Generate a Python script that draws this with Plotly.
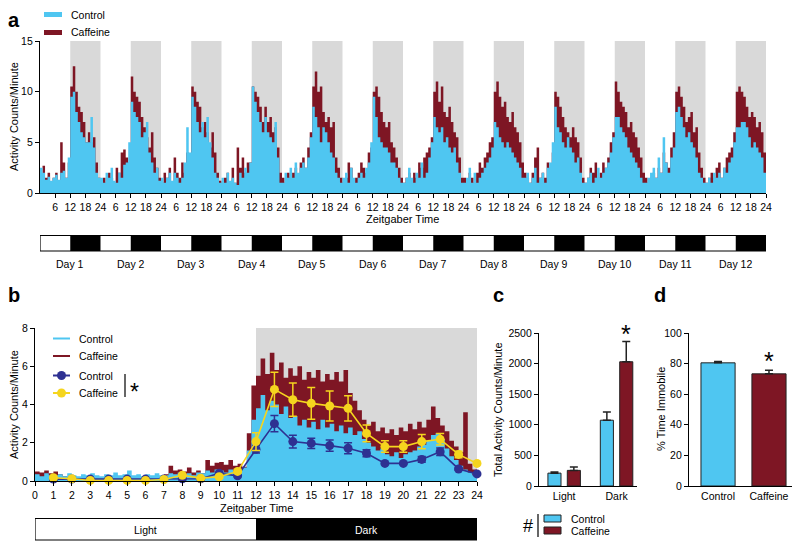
import plotly.graph_objects as go

# The page body has an 8 px margin; the figure is sized and offset so that
# reference pixel coordinates map 1:1 onto the 800x543 screenshot.
OFF = 8
W, H = 800 - OFF, 543 - OFF
FONT = "Liberation Sans, Arial, sans-serif"
BLUE = "#4FC6F1"
RED = "#7E1624"
NAVY = "#2E3192"
GOLD = "#F5D51E"
GRAY = "#D9D9D9"

# ---------------- Panel a: hourly activity, 12 days x 24 h (ZT0..ZT23) ----------------
a_tick_labels = ["6", "12", "18", "24"]
day_labels = ["Day %d" % (i + 1) for i in range(12)]

control_hourly = [
    [2.5, 2.0, 1.3, 1.6, 1.2, 1.5, 1.8, 1.3, 2.0, 2.2, 1.5, 3.5, 9.5, 10.0, 8.0, 7.0, 6.0, 5.5, 5.0, 5.0, 7.5, 4.5, 2.0, 1.5],
    [1.5, 1.0, 2.0, 1.5, 2.5, 1.2, 1.0, 2.0, 1.5, 2.8, 3.0, 5.0, 9.0, 8.0, 7.5, 7.0, 5.5, 6.0, 7.0, 4.0, 3.0, 2.0, 2.5, 1.2],
    [1.5, 1.0, 1.5, 2.0, 1.2, 2.0, 1.5, 1.0, 1.5, 3.0, 6.5, 4.0, 9.5, 8.5, 7.0, 6.0, 7.0, 5.5, 7.5, 5.0, 3.5, 2.0, 1.5, 1.0],
    [1.5, 1.0, 2.0, 1.2, 1.5, 1.0, 0.8, 2.0, 1.5, 2.5, 2.0, 3.0, 10.5, 9.0, 8.0, 7.0, 6.0, 7.5, 6.0, 5.5, 5.0, 7.0, 3.5, 1.0],
    [1.0, 2.0, 1.5, 2.5, 1.5, 3.0, 2.0, 2.5, 3.0, 2.5, 3.5, 5.5, 8.5, 7.5, 6.5, 5.0, 6.5, 6.0, 5.0, 4.0, 3.5, 2.0, 1.5, 1.0],
    [1.5, 2.0, 1.0, 2.5, 1.5, 1.0, 1.5, 2.0, 1.5, 2.5, 3.0, 5.0, 9.5, 7.5, 5.5, 5.0, 4.5, 4.5, 4.0, 3.0, 3.0, 2.5, 1.5, 1.0],
    [1.0, 1.5, 2.5, 1.5, 1.0, 2.0, 1.5, 3.0, 1.5, 2.0, 3.5, 5.0, 7.5, 6.5, 6.0, 6.5, 5.0, 5.5, 4.5, 4.0, 4.5, 3.0, 2.0, 1.0],
    [1.0, 1.5, 2.5, 1.0, 2.0, 1.0, 1.5, 2.0, 2.5, 3.0, 3.5, 4.5, 7.0, 6.5, 5.5, 5.0, 4.5, 5.0, 4.5, 4.0, 3.5, 3.0, 2.5, 1.5],
    [1.5, 2.0, 1.0, 1.5, 2.5, 1.0, 1.5, 2.0, 1.0, 2.5, 3.0, 5.0, 8.5, 6.5, 6.0, 5.0, 4.5, 5.5, 4.5, 4.0, 3.0, 3.5, 2.0, 1.0],
    [1.0, 1.5, 2.0, 1.0, 1.5, 2.5, 1.5, 2.0, 2.5, 3.0, 4.0, 5.5, 7.5, 7.5, 6.5, 6.0, 5.5, 4.5, 4.0, 3.5, 3.0, 2.5, 1.5, 1.0],
    [1.0, 1.5, 2.0, 2.5, 1.5, 3.5, 2.0, 5.5, 3.0, 2.0, 3.5, 4.5, 8.0, 8.5, 7.5, 6.5, 5.5, 6.0, 5.0, 4.5, 3.5, 2.0, 1.5, 1.0],
    [1.0, 1.5, 1.0, 2.0, 1.5, 2.0, 1.5, 2.5, 2.0, 3.0, 3.5, 5.0, 6.5, 6.5, 7.0, 7.0, 6.5, 5.5, 4.5, 5.0, 4.5, 4.0, 3.5, 2.0],
]

caffeine_hourly = [
    [1.8, 2.7, 1.5, 2.0, 1.0, 1.5, 2.0, 1.2, 5.0, 3.0, 1.5, 3.0, 10.5, 12.5, 10.0, 8.5, 8.0, 7.0, 5.0, 6.0, 5.0, 5.5, 3.0, 1.5],
    [1.0, 1.5, 1.0, 2.0, 1.5, 1.0, 2.5, 2.0, 4.0, 4.3, 3.5, 3.0, 11.5, 10.0, 9.5, 9.0, 7.5, 6.5, 5.5, 4.5, 6.0, 3.5, 2.5, 1.5],
    [1.0, 2.0, 1.5, 2.5, 1.0, 3.5, 2.0, 1.5, 3.0, 2.0, 4.0, 3.0, 10.5, 10.0, 9.0, 8.5, 6.5, 7.0, 6.0, 4.5, 6.0, 4.0, 2.0, 1.2],
    [1.0, 1.5, 2.0, 1.0, 2.5, 1.0, 4.5, 2.5, 3.5, 2.0, 3.0, 3.0, 10.5, 10.0, 9.5, 8.5, 7.0, 8.5, 7.0, 7.5, 6.0, 6.5, 4.5, 2.0],
    [1.5, 1.0, 2.0, 1.5, 2.0, 2.5, 1.5, 3.0, 3.5, 2.5, 4.5, 6.0, 10.5, 12.0, 10.0, 10.5, 8.0, 7.0, 7.5, 6.5, 7.0, 3.5, 2.5, 1.5],
    [1.0, 1.5, 3.0, 2.5, 1.0, 1.5, 2.0, 3.0, 2.5, 2.0, 4.0, 4.5, 10.0, 10.5, 9.5, 8.0, 7.0, 6.5, 7.0, 5.0, 4.5, 3.5, 2.5, 1.5],
    [1.0, 1.5, 2.0, 1.0, 2.0, 1.5, 3.0, 2.5, 3.5, 4.0, 4.5, 5.5, 10.0, 11.0, 9.0, 10.5, 8.0, 7.5, 8.5, 7.0, 6.0, 5.5, 3.5, 1.5],
    [1.5, 1.0, 2.0, 1.5, 1.0, 2.0, 3.0, 2.5, 3.5, 4.0, 5.0, 5.5, 10.0, 11.0, 9.5, 8.5, 9.0, 7.5, 7.0, 8.0, 6.5, 6.0, 5.0, 3.0],
    [2.0, 1.5, 1.0, 2.0, 3.5, 4.5, 1.5, 2.0, 1.5, 3.0, 2.5, 4.0, 10.0, 9.5, 8.5, 7.5, 6.5, 6.0, 5.5, 6.5, 5.5, 5.0, 3.5, 1.5],
    [1.0, 1.5, 2.5, 2.0, 3.0, 1.5, 2.0, 3.0, 2.5, 3.5, 5.0, 6.0, 11.0, 10.0, 9.0, 8.5, 8.0, 6.5, 7.0, 6.0, 5.5, 4.5, 3.5, 2.0],
    [1.5, 1.0, 1.5, 2.0, 1.5, 2.5, 2.0, 4.0, 3.0, 2.5, 4.5, 6.0, 10.0, 10.5, 9.5, 8.5, 7.0, 7.5, 8.0, 6.0, 6.5, 4.0, 2.5, 1.5],
    [1.0, 1.5, 2.0, 1.5, 2.5, 3.0, 1.5, 2.5, 3.5, 4.0, 4.5, 6.0, 10.0, 10.5, 10.0, 9.5, 8.5, 7.5, 8.0, 7.5, 6.5, 7.0, 6.0, 4.0],
]

# ---------------- Panel b: 24 h profile (15-min bins) and hourly means ----------------
control_b = [
    0.35, 0.25, 0.40, 0.30, 0.30, 0.35, 0.25, 0.40, 0.30, 0.25, 0.35, 0.30,
    0.40, 0.30, 0.25, 0.35, 0.30, 0.45, 0.30, 0.35, 0.55, 0.30, 0.35, 0.25,
    0.35, 0.30, 0.40, 0.30, 0.30, 0.40, 0.35, 0.45, 0.35, 0.40, 0.30, 0.45,
    0.40, 0.55, 0.45, 0.60, 0.55, 0.45, 0.60, 0.50, 0.55, 0.70, 1.60, 3.20,
    3.80, 4.50, 3.70, 4.20, 4.00, 3.50, 3.90, 3.30, 3.40, 2.90, 3.20, 2.80,
    3.10, 2.70, 3.20, 2.80, 3.00, 2.60, 2.90, 2.50, 2.80, 2.40, 2.60, 2.20,
    2.00, 1.80, 1.60, 1.70, 1.40, 1.30, 1.50, 1.20, 1.40, 1.50, 1.60, 1.80,
    1.90, 2.10, 2.40, 2.50, 2.20, 1.70, 1.30, 1.10, 0.80, 0.60, 0.45, 0.30,
]
caffeine_b = [
    0.50, 0.45, 0.55, 0.40, 0.50, 0.35, 0.25, 0.20, 0.25, 0.20, 0.25, 0.20,
    0.15, 0.20, 0.15, 0.20, 0.20, 0.15, 0.20, 0.15, 0.15, 0.20, 0.15, 0.20,
    0.20, 0.25, 0.20, 0.25, 0.35, 0.80, 0.55, 0.60, 0.50, 0.70, 0.45, 0.55,
    0.40, 1.10, 0.80, 0.95, 1.00, 0.85, 1.10, 0.80, 0.90, 0.75, 2.50, 5.00,
    5.50, 6.40, 5.60, 6.70, 5.80, 6.20, 5.40, 5.90, 5.50, 6.00, 5.30, 5.70,
    5.40, 5.80, 5.20, 5.60, 5.30, 5.70, 5.20, 5.80, 4.60, 4.20, 3.70, 3.20,
    2.90, 3.10, 2.60, 2.80, 2.50, 2.70, 2.40, 2.80, 2.60, 3.00, 2.70, 3.10,
    2.80, 3.20, 3.90, 3.30, 2.90, 2.60, 2.10, 1.80, 1.50, 3.60, 0.90, 0.60,
]
hours_mean = list(range(1, 25))
control_mean = [0.10, 0.10, 0.10, 0.10, 0.10, 0.10, 0.10, 0.12, 0.12, 0.40, 0.27, 1.66,
                3.00, 2.06, 1.97, 1.85, 1.71, 1.45, 0.92, 0.92, 1.13, 1.53, 0.63, 0.37]
control_sem = [0.03, 0.03, 0.03, 0.03, 0.03, 0.03, 0.03, 0.03, 0.03, 0.05, 0.04, 0.20,
               0.42, 0.33, 0.27, 0.30, 0.29, 0.18, 0.05, 0.05, 0.15, 0.20, 0.05, 0.05]
caffeine_mean = [0.17, 0.12, 0.03, 0.03, 0.03, 0.03, 0.08, 0.30, 0.15, 0.22, 0.50, 2.06,
                 4.79, 4.25, 4.06, 3.92, 3.80, 2.49, 1.80, 1.80, 2.06, 2.18, 1.39, 0.92]
caffeine_sem = [0.04, 0.04, 0.03, 0.03, 0.03, 0.03, 0.03, 0.05, 0.04, 0.08, 0.08, 0.46,
                0.90, 0.87, 0.83, 0.78, 0.66, 0.44, 0.30, 0.30, 0.37, 0.30, 0.17, 0.05]

# ---------------- Panel c: total activity ----------------
c_categories = ["Light", "Dark"]
c_control = [210, 1075]
c_control_err = [18, 135]
c_caffeine = [255, 2030]
c_caffeine_err = [55, 330]

# ---------------- Panel d: % time immobile ----------------
d_categories = ["Control", "Caffeine"]
d_values = [80.5, 73.3]
d_err = [0.8, 2.4]


def px(x):
    return (x - OFF) / W


def py(y):
    return 1 - (y - OFF) / H


fig = go.Figure()

# ---- panel a traces (step areas) ----
xa = [d * 24 + h for d in range(12) for h in range(24)]
xa.append(288)
ya_caf = [v for day in caffeine_hourly for v in day]
ya_caf.append(ya_caf[-1])
ya_ctl = [v for day in control_hourly for v in day]
ya_ctl.append(ya_ctl[-1])
for yy, col in ((ya_caf, RED), (ya_ctl, BLUE)):
    fig.add_trace(go.Scatter(x=xa, y=yy, mode="lines", line=dict(width=0, shape="hv", color=col),
                             fill="tozeroy", fillcolor=col, xaxis="x", yaxis="y",
                             showlegend=False, hoverinfo="skip"))

# ---- panel b traces ----
xb = [i * 0.25 for i in range(96)]
xb.append(24)
yb_caf = caffeine_b + [caffeine_b[-1]]
yb_ctl = control_b + [control_b[-1]]
for yy, col in ((yb_caf, RED), (yb_ctl, BLUE)):
    fig.add_trace(go.Scatter(x=xb, y=yy, mode="lines", line=dict(width=0, shape="hv", color=col),
                             fill="tozeroy", fillcolor=col, xaxis="x2", yaxis="y2",
                             showlegend=False, hoverinfo="skip"))
for mean, sem, col in ((control_mean, control_sem, NAVY), (caffeine_mean, caffeine_sem, GOLD)):
    fig.add_trace(go.Scatter(x=hours_mean, y=mean, mode="lines+markers",
                             line=dict(color=col, width=1.6),
                             marker=dict(color=col, size=9),
                             error_y=dict(type="data", array=sem, color=col, thickness=1.5, width=4),
                             xaxis="x2", yaxis="y2", showlegend=False, cliponaxis=False))

# ---- panel c ----
for vals, errs, col, off in ((c_control, c_control_err, BLUE, -0.31), (c_caffeine, c_caffeine_err, RED, 0.06)):
    fig.add_trace(go.Bar(x=[0, 1], y=vals, width=0.25, offset=off,
                         marker=dict(color=col, line=dict(color="#222", width=1)),
                         error_y=dict(type="data", array=errs, arrayminus=[0, 0], symmetric=False,
                                      color="#222", thickness=1.5, width=4),
                         xaxis="x3", yaxis="y3", showlegend=False))

# ---- panel d ----
fig.add_trace(go.Bar(x=[0, 1], y=d_values, width=0.67,
                     marker=dict(color=[BLUE, RED], line=dict(color="#222", width=1)),
                     error_y=dict(type="data", array=d_err, arrayminus=[0, 0], symmetric=False,
                                  color="#222", thickness=1.5, width=4),
                     xaxis="x4", yaxis="y4", showlegend=False))

shapes = []
ann = []
FS = 10.5

# gray dark-phase regions panel a
for d in range(12):
    shapes.append(dict(type="rect", xref="x", yref="y", x0=d * 24 + 12, x1=d * 24 + 24, y0=0, y1=15,
                       fillcolor=GRAY, line=dict(width=0), layer="below"))
# LD bar panel a
for d in range(12):
    shapes.append(dict(type="rect", xref="x", yref="paper", x0=d * 24 + 12, x1=d * 24 + 24,
                       y0=py(251), y1=py(235.5), fillcolor="black", line=dict(width=0)))
    ann.append(dict(x=d * 24 + 12, xref="x", y=py(264), yref="paper", text=day_labels[d],
                    showarrow=False, font=dict(size=FS)))
shapes.append(dict(type="rect", xref="x", yref="paper", x0=0, x1=288, y0=py(251), y1=py(235.5),
                   fillcolor="rgba(0,0,0,0)", line=dict(color="black", width=1.2)))

# gray region panel b
shapes.append(dict(type="rect", xref="x2", yref="y2", x0=12, x1=24, y0=0, y1=8,
                   fillcolor=GRAY, line=dict(width=0), layer="below"))
# LD bar panel b
shapes.append(dict(type="rect", xref="x2", yref="paper", x0=12, x1=24, y0=py(540), y1=py(518.5),
                   fillcolor="black", line=dict(width=0)))
shapes.append(dict(type="rect", xref="x2", yref="paper", x0=0, x1=24, y0=py(540), y1=py(518.5),
                   fillcolor="rgba(0,0,0,0)", line=dict(color="black", width=1.2)))
ann.append(dict(x=6, xref="x2", y=py(529.5), yref="paper", text="Light", showarrow=False,
                font=dict(size=FS, color="black")))
ann.append(dict(x=18, xref="x2", y=py(529.5), yref="paper", text="Dark", showarrow=False,
                font=dict(size=FS, color="white")))

# legend panel a
for yy, col, txt in ((14.5, BLUE, "Control"), (32.5, RED, "Caffeine")):
    shapes.append(dict(type="line", xref="paper", yref="paper", x0=px(44), x1=px(62), y0=py(yy), y1=py(yy),
                       line=dict(color=col, width=5)))
    ann.append(dict(x=px(69), y=py(yy), xref="paper", yref="paper", xanchor="left", text=txt,
                    showarrow=False, font=dict(size=FS)))

# legend panel b
for yy, col, txt, mk in ((338.5, BLUE, "Control", False), (356, RED, "Caffeine", False),
                         (375.5, NAVY, "Control", True), (393, GOLD, "Caffeine", True)):
    shapes.append(dict(type="line", xref="paper", yref="paper", x0=px(53), x1=px(70), y0=py(yy), y1=py(yy),
                       line=dict(color=col, width=2)))
    if mk:
        shapes.append(dict(type="circle", xref="paper", yref="paper", xsizemode="pixel", ysizemode="pixel",
                           xanchor=px(61.5), yanchor=py(yy), x0=-4.5, x1=4.5, y0=-4.5, y1=4.5,
                           fillcolor=col, line=dict(width=0)))
    ann.append(dict(x=px(77), y=py(yy), xref="paper", yref="paper", xanchor="left", text=txt,
                    showarrow=False, font=dict(size=FS)))
shapes.append(dict(type="line", xref="paper", yref="paper", x0=px(125), x1=px(125), y0=py(374), y1=py(397),
                   line=dict(color="#333", width=1.5)))
ann.append(dict(x=px(134), y=py(392), xref="paper", yref="paper", text="*", showarrow=False,
                font=dict(size=23)))

# legend panel c
shapes.append(dict(type="line", xref="paper", yref="paper", x0=px(538), x1=px(538), y0=py(514), y1=py(537),
                   line=dict(color="#333", width=1.5)))
shapes.append(dict(type="rect", xref="paper", yref="paper", x0=px(544), x1=px(561), y0=py(522), y1=py(515),
                   fillcolor=BLUE, line=dict(color="#222", width=1)))
shapes.append(dict(type="rect", xref="paper", yref="paper", x0=px(544), x1=px(561), y0=py(534), y1=py(527),
                   fillcolor=RED, line=dict(color="#222", width=1)))
ann.append(dict(x=px(528), y=py(526), xref="paper", yref="paper", text="#", showarrow=False,
                font=dict(size=18)))
ann.append(dict(x=px(569), y=py(518.5), xref="paper", yref="paper", xanchor="left", text="Control",
                showarrow=False, font=dict(size=FS)))
ann.append(dict(x=px(569), y=py(530.5), xref="paper", yref="paper", xanchor="left", text="Caffeine",
                showarrow=False, font=dict(size=FS)))

# asterisks
ann.append(dict(x=px(626), y=py(334), xref="paper", yref="paper", text="*", showarrow=False, font=dict(size=25)))
ann.append(dict(x=px(769), y=py(361), xref="paper", yref="paper", text="*", showarrow=False, font=dict(size=25)))

# panel letters
ann.append(dict(x=px(14), y=1, xref="paper", yref="paper", yanchor="top", borderpad=0, text="<b>a</b>",
                showarrow=False, font=dict(size=20)))
for txt, x, y in (("b", 14, 295), ("c", 498, 295), ("d", 660, 295)):
    ann.append(dict(x=px(x), y=py(y), xref="paper", yref="paper", text="<b>%s</b>" % txt, showarrow=False,
                    font=dict(size=20)))

# axis titles
TS = 11
ann.append(dict(x=px(14), y=py(117), xref="paper", yref="paper", text="Activity Counts/Minute", textangle=-90,
                showarrow=False, font=dict(size=TS)))
ann.append(dict(x=px(402), y=py(219), xref="paper", yref="paper", text="Zeitgaber Time",
                showarrow=False, font=dict(size=TS)))
ann.append(dict(x=px(14), y=py(405), xref="paper", yref="paper", text="Activity Counts/Minute", textangle=-90,
                showarrow=False, font=dict(size=TS)))
ann.append(dict(x=px(256), y=py(508), xref="paper", yref="paper", text="Zeitgaber Time",
                showarrow=False, font=dict(size=TS)))
ann.append(dict(x=px(498), y=py(410), xref="paper", yref="paper", text="Total Activity Counts/Minute",
                textangle=-90, showarrow=False, font=dict(size=TS)))
ann.append(dict(x=px(661), y=py(409), xref="paper", yref="paper", text="% Time Immobile",
                textangle=-90, showarrow=False, font=dict(size=TS)))

for a in ann:
    a.setdefault("xanchor", "center")
    a.setdefault("yanchor", "middle")

axis_common = dict(showline=True, linecolor="black", linewidth=1.3, showgrid=False, zeroline=False,
                   ticks="outside", ticklen=4, tickwidth=1.2, tickcolor="black", tickfont=dict(size=FS),
                   automargin=False)

a_ticks = list(range(6, 289, 6))
fig.update_layout(
    template="none",
    width=W, height=H, margin=dict(l=0, r=0, t=0, b=0, pad=0, autoexpand=False),
    paper_bgcolor="white", plot_bgcolor="rgba(0,0,0,0)",
    font=dict(family=FONT, color="black"),
    barmode="overlay", showlegend=False,
    xaxis=dict(axis_common, domain=[px(40), px(766)], range=[0, 288], tickvals=a_ticks,
               ticktext=[a_tick_labels[i % 4] for i in range(len(a_ticks))], anchor="y"),
    yaxis=dict(axis_common, domain=[py(193), py(41)], range=[0, 15], tickvals=[0, 5, 10, 15], anchor="x"),
    xaxis2=dict(axis_common, domain=[px(35), px(477)], range=[0, 24], tickvals=list(range(25)), anchor="y2"),
    yaxis2=dict(axis_common, domain=[py(481), py(328)], range=[0, 8], tickvals=[0, 2, 4, 6, 8], anchor="x2"),
    xaxis3=dict(axis_common, domain=[px(539), px(637)], range=[-0.48, 1.39], tickvals=[0, 1],
                ticktext=c_categories, ticks="", anchor="y3"),
    yaxis3=dict(axis_common, domain=[py(486), py(333)], range=[0, 2500], tickvals=[0, 500, 1000, 1500, 2000, 2500],
                anchor="x3"),
    xaxis4=dict(axis_common, domain=[px(689), px(797)], range=[-0.57, 1.55], tickvals=[0, 1],
                ticktext=d_categories, ticks="", anchor="y4"),
    yaxis4=dict(axis_common, domain=[py(486), py(333)], range=[0, 100], tickvals=[0, 20, 40, 60, 80, 100],
                anchor="x4"),
    shapes=shapes, annotations=ann,
)

fig.write_html("out.html")
